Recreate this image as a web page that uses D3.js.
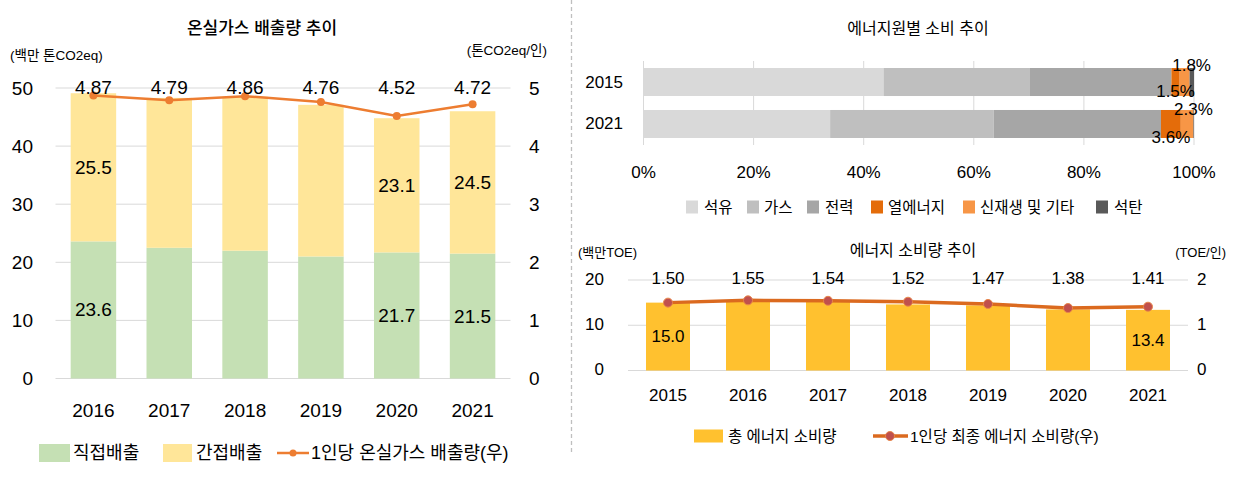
<!DOCTYPE html>
<html><head><meta charset="utf-8">
<script src="https://cdn.jsdelivr.net/npm/d3@7"></script>
<style>
html,body{margin:0;padding:0;background:#fff;}
svg text{font-family:"Liberation Sans","Noto Sans CJK KR",sans-serif;fill:#000;}
</style></head>
<body><svg id="c" width="1237" height="485"></svg>
<script>
// ---------- Data ----------
const ghgYears = ["2016","2017","2018","2019","2020","2021"];
const ghgDirect = [23.6, 22.5, 22.0, 21.0, 21.7, 21.5];
const ghgIndirect = [25.5, 25.8, 26.5, 26.1, 23.1, 24.5];
const ghgPerCapita = [4.87, 4.79, 4.86, 4.76, 4.52, 4.72];
const ghgLeftTicks = [0, 10, 20, 30, 40, 50];
const ghgRightTicks = [0, 1, 2, 3, 4, 5];
const ghgDirectLabelShown = [true, false, false, false, true, true];
const ghgIndirectLabelShown = [true, false, false, false, true, true];

const srcYears = ["2015", "2021"];
const srcNames = ["석유", "가스", "전력", "열에너지", "신재생 및 기타", "석탄"];
const src2015 = [43.6, 26.5, 25.8, 1.5, 1.8, 0.8];
const src2021 = [33.9, 29.7, 30.4, 3.6, 2.3, 0.1];
const srcTicks = [0, 20, 40, 60, 80, 100];

const enYears = ["2015","2016","2017","2018","2019","2020","2021"];
const enTotal = [15.0, 15.5, 15.2, 14.6, 14.4, 13.5, 13.4];
const enPerCapita = [1.50, 1.55, 1.54, 1.52, 1.47, 1.38, 1.41];
const enLeftTicks = [0, 10, 20];
const enRightTicks = [0, 1, 2];
const enTotalLabelShown = [true, false, false, false, false, false, true];

// ---------- Styles ----------
const C = {
  green: "#c5e0b4", yellow: "#ffe699", orange: "#ed7d31", grid: "#d9d9d9",
  src: ["#d9d9d9", "#bfbfbf", "#a6a6a6", "#e46c0a", "#f79646", "#595959"],
  gold: "#ffc12f", enLine: "#db6a1f", enDot: "#c0504d"
};
const svg = d3.select("#c");

function txt(g, x, y, s, size, anchor) {
  return g.append("text").attr("x", x).attr("y", y).text(s)
    .attr("font-size", size).attr("text-anchor", anchor || "middle")
    .attr("dominant-baseline", "central");
}

// separator
svg.append("line").attr("x1", 571.5).attr("x2", 571.5).attr("y1", 0).attr("y2", 455)
  .attr("stroke", "#bfbfbf").attr("stroke-width", 1.3).attr("stroke-dasharray", "4,3");

// ================= Chart 1: GHG =================
{
  const g = svg.append("g");
  const x = d3.scaleBand().domain(ghgYears).range([55.5, 510.5]).paddingInner(0.4).paddingOuter(0.2);
  const yL = d3.scaleLinear().domain([0, 50]).range([378.5, 88]);
  const yR = d3.scaleLinear().domain([0, 5]).range([378.5, 88]);

  txt(g, 262, 28, "온실가스 배출량 추이", 17).attr("font-weight", 500);
  txt(g, 10, 55, "(백만 톤CO2eq)", 13.5, "start");
  txt(g, 547, 50, "(톤CO2eq/인)", 13.5, "end");

  g.selectAll(".gl").data(ghgLeftTicks).join("line")
    .attr("x1", 55.5).attr("x2", 510.5).attr("y1", d => yL(d)).attr("y2", d => yL(d))
    .attr("stroke", C.grid).attr("stroke-width", 1);

  ghgLeftTicks.forEach(d => txt(g, 33, yL(d), d, 19, "end"));
  ghgRightTicks.forEach(d => txt(g, 529, yR(d), d, 19, "start"));

  ghgYears.forEach((yr, i) => {
    const bx = x(yr), bw = x.bandwidth();
    g.append("rect").attr("x", bx).attr("width", bw)
      .attr("y", yL(ghgDirect[i])).attr("height", yL(0) - yL(ghgDirect[i])).attr("fill", C.green);
    g.append("rect").attr("x", bx).attr("width", bw)
      .attr("y", yL(ghgDirect[i] + ghgIndirect[i])).attr("height", yL(0) - yL(ghgIndirect[i])).attr("fill", C.yellow);
    if (ghgDirectLabelShown[i]) txt(g, bx + bw / 2, yL(ghgDirect[i] / 2), ghgDirect[i].toFixed(1), 19);
    if (ghgIndirectLabelShown[i]) txt(g, bx + bw / 2, yL(ghgDirect[i] + ghgIndirect[i] / 2), ghgIndirect[i].toFixed(1), 19);
    txt(g, bx + bw / 2, 410, yr, 19);
  });

  const line = d3.line().x((d, i) => x(ghgYears[i]) + x.bandwidth() / 2).y(d => yR(d));
  g.append("path").datum(ghgPerCapita).attr("d", line).attr("fill", "none")
    .attr("stroke", C.orange).attr("stroke-width", 2.5);
  g.selectAll(".dot").data(ghgPerCapita).join("circle")
    .attr("cx", (d, i) => x(ghgYears[i]) + x.bandwidth() / 2).attr("cy", d => yR(d)).attr("r", 4)
    .attr("fill", C.orange);
  ghgPerCapita.forEach((d, i) => txt(g, x(ghgYears[i]) + x.bandwidth() / 2, 87, d.toFixed(2), 19));

  // legend
  const ly = 453;
  g.append("rect").attr("x", 39).attr("y", ly - 9).attr("width", 31).attr("height", 18).attr("fill", C.green);
  txt(g, 73, ly, "직접배출", 18, "start");
  g.append("rect").attr("x", 163).attr("y", ly - 9).attr("width", 29).attr("height", 18).attr("fill", C.yellow);
  txt(g, 196, ly, "간접배출", 18, "start");
  g.append("line").attr("x1", 277).attr("x2", 309).attr("y1", ly).attr("y2", ly).attr("stroke", C.orange).attr("stroke-width", 2.5);
  g.append("circle").attr("cx", 293).attr("cy", ly).attr("r", 3.5).attr("fill", C.orange);
  txt(g, 311, ly, "1인당 온실가스 배출량(우)", 18, "start");
}

// ================= Chart 2: energy source share =================
{
  const g = svg.append("g");
  const x = d3.scaleLinear().domain([0, 100]).range([643.5, 1194]);
  const y = d3.scaleBand().domain(srcYears).range([61, 145]).paddingInner(0.333).paddingOuter(0.167);

  txt(g, 918, 28, "에너지원별 소비 추이", 16);

  g.selectAll(".gv").data(srcTicks).join("line")
    .attr("x1", d => x(d)).attr("x2", d => x(d)).attr("y1", 61).attr("y2", 145)
    .attr("stroke", C.grid).attr("stroke-width", 1);
  srcTicks.forEach(d => txt(g, x(d), 172, d + "%", 17));

  const rows = [src2015, src2021];
  srcYears.forEach((yr, r) => {
    const vals = rows[r];
    let cum = 0;
    const by = y(yr), bh = y.bandwidth();
    vals.forEach((v, k) => {
      g.append("rect").attr("x", x(cum)).attr("width", x(cum + v) - x(cum))
        .attr("y", by).attr("height", bh).attr("fill", C.src[k]);
      cum += v;
    });
    // labels: 열에너지 below-centre, 신재생 above-end
    const c3 = vals[0] + vals[1] + vals[2];
    const c4 = c3 + vals[3];
    txt(g, x(c3 + vals[3] / 2), r === 0 ? by + bh - 5 : by + bh, vals[3].toFixed(1) + "%", 17);
    txt(g, x(c4 + vals[4]) + (r === 0 ? 2 : 0), r === 0 ? by - 3 : by + 0, vals[4].toFixed(1) + "%", 17);
    txt(g, 623, by + bh / 2, yr, 17, "end");
  });

  // legend
  const ly = 207;
  const lx = [[686, 704], [747, 764], [807, 825], [871, 888], [963, 980], [1096, 1114]];
  srcNames.forEach((n, k) => {
    g.append("rect").attr("x", lx[k][0]).attr("y", ly - 6.5).attr("width", 12).attr("height", 13).attr("fill", C.src[k]);
    txt(g, lx[k][1], ly, n, 15.5, "start");
  });
}

// ================= Chart 3: energy consumption =================
{
  const g = svg.append("g");
  const x = d3.scaleBand().domain(enYears).range([628, 1188]).paddingInner(0.45).paddingOuter(0.225);
  const yL = d3.scaleLinear().domain([0, 20]).range([370.5, 280]);
  const yR = d3.scaleLinear().domain([0, 2]).range([370.5, 280]);

  txt(g, 913, 250, "에너지 소비량 추이", 16);
  txt(g, 578, 252, "(백만TOE)", 13, "start");
  txt(g, 1226, 252, "(TOE/인)", 13, "end");

  g.selectAll(".gl").data(enLeftTicks).join("line")
    .attr("x1", 628).attr("x2", 1188).attr("y1", d => yL(d)).attr("y2", d => yL(d))
    .attr("stroke", C.grid).attr("stroke-width", 1);
  enLeftTicks.forEach(d => txt(g, 604, yL(d) - 1, d, 17, "end"));
  enRightTicks.forEach(d => txt(g, 1197, yR(d) - 1, d, 17, "start"));

  enYears.forEach((yr, i) => {
    const bx = x(yr), bw = x.bandwidth();
    g.append("rect").attr("x", bx).attr("width", bw).attr("y", yL(enTotal[i]))
      .attr("height", yL(0) - yL(enTotal[i])).attr("fill", C.gold);
    if (enTotalLabelShown[i]) txt(g, bx + bw / 2, yL(enTotal[i] / 2), enTotal[i].toFixed(1), 17);
    txt(g, bx + bw / 2, 395, yr, 17);
    txt(g, bx + bw / 2, 278, enPerCapita[i].toFixed(2), 17);
  });

  const line = d3.line().x((d, i) => x(enYears[i]) + x.bandwidth() / 2).y(d => yR(d));
  g.append("path").datum(enPerCapita).attr("d", line).attr("fill", "none")
    .attr("stroke", C.enLine).attr("stroke-width", 3.5);
  g.selectAll(".dot").data(enPerCapita).join("circle")
    .attr("cx", (d, i) => x(enYears[i]) + x.bandwidth() / 2).attr("cy", d => yR(d)).attr("r", 4.5)
    .attr("fill", C.enDot).attr("stroke", "#e8864a").attr("stroke-width", 1);

  const ly = 436;
  g.append("rect").attr("x", 694).attr("y", ly - 6.5).attr("width", 29).attr("height", 13).attr("fill", C.gold);
  txt(g, 728, ly, "총 에너지 소비량", 15.5, "start");
  g.append("line").attr("x1", 873).attr("x2", 908).attr("y1", ly).attr("y2", ly).attr("stroke", C.enLine).attr("stroke-width", 3.5);
  g.append("circle").attr("cx", 890).attr("cy", ly).attr("r", 4.5).attr("fill", C.enDot).attr("stroke", "#e8864a");
  txt(g, 910, ly, "1인당 최종 에너지 소비량(우)", 15.5, "start");
}
</script></body></html>
